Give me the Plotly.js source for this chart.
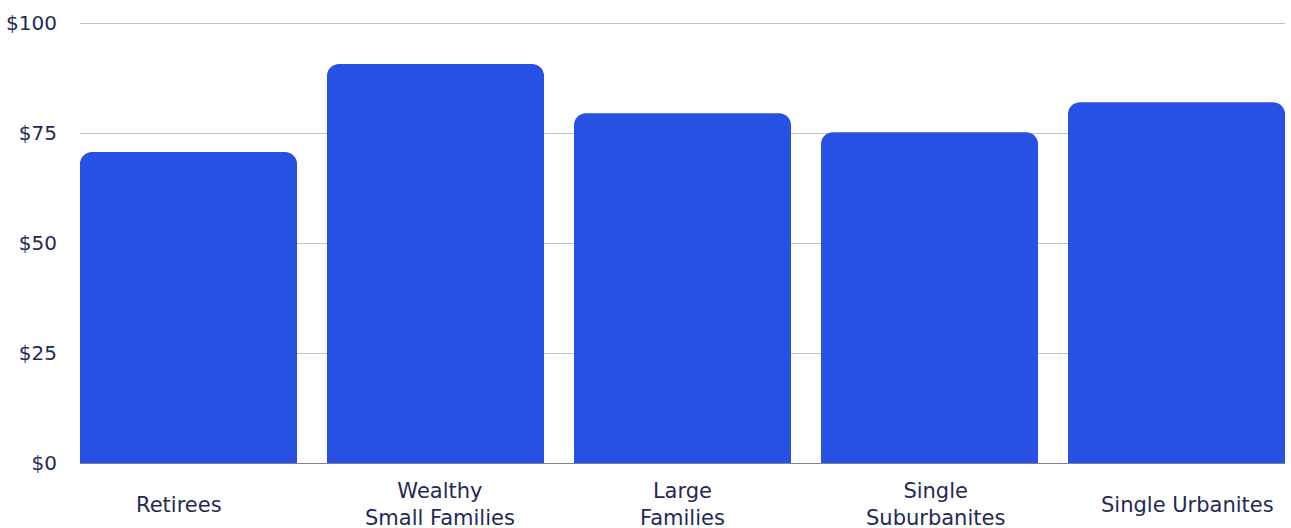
<!DOCTYPE html>
<html><head><meta charset="utf-8">
<script src="https://cdn.plot.ly/plotly-3.0.1.min.js"></script>
<style>html,body{margin:0;padding:0;background:#fff;}#chart{width:1291px;height:528px;}</style>
</head><body><div id="chart"></div>
<script>
const categories = ["Retirees", "Wealthy<br>Small Families", "Large<br>Families", "Single<br>Suburbanites", "Single Urbanites"];
const values = [70.7, 90.7, 79.5, 75.2, 82.0];
const yTickVals = [0, 25, 50, 75, 100];
const yTickText = ["$0", "$25", "$50", "$75", "$100"];

const textColor = "#1f2a55";
const fontFam = "DejaVu Sans, sans-serif";
const gap = 30 / 247;
const half = (1 - gap) / 2;
const labelNudge = [-10, 4, 0, 6, 11];

const trace = {
  type: "bar",
  x: categories,
  y: values,
  marker: {color: "#2651e3", cornerradius: 12},
  hoverinfo: "skip"
};

const annotations = categories.map((c, i) => ({
  x: c, y: 0, xref: "x", yref: "paper",
  yshift: -41.5, xshift: labelNudge[i],
  yanchor: "middle", xanchor: "center",
  text: c, showarrow: false,
  font: {family: fontFam, size: 21, color: textColor}
}));

const layout = {
  width: 1291, height: 528,
  margin: {l: 80, r: 6, t: 22, b: 65},
  paper_bgcolor: "#ffffff", plot_bgcolor: "#ffffff",
  bargap: gap,
  showlegend: false,
  font: {family: fontFam, size: 20, color: textColor},
  xaxis: {
    type: "category",
    range: [-half, categories.length - 1 + half],
    showticklabels: false,
    showgrid: false,
    showline: false,
    zeroline: false,
    ticks: ""
  },
  yaxis: {
    range: [0, 100.25],
    tickvals: yTickVals,
    ticktext: yTickText,
    showgrid: true,
    gridcolor: "#bfc2cf",
    gridwidth: 1,
    zeroline: true,
    zerolinecolor: "#7f8290",
    zerolinewidth: 1,
    showline: false,
    ticks: "",
    ticklabelstandoff: 22,
    tickfont: {family: fontFam, size: 20, color: textColor}
  },
  annotations: annotations
};

Plotly.newPlot("chart", [trace], layout, {displayModeBar: false, staticPlot: true});
</script>
</body></html>
